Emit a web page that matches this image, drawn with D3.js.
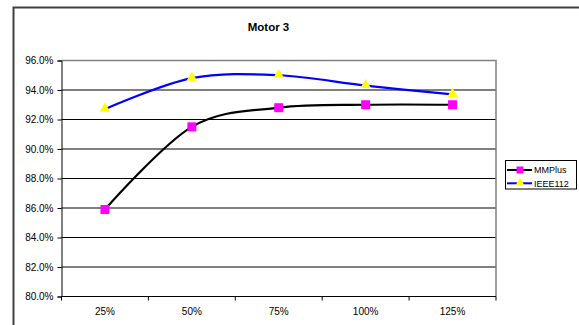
<!DOCTYPE html>
<html>
<head>
<meta charset="utf-8">
<script src="https://cdn.jsdelivr.net/npm/d3@7"></script>
<style>
  html, body { margin: 0; padding: 0; background: #fff; }
  svg { display: block; }
  text { font-family: Arial, "Liberation Sans", sans-serif; fill: #000; }
</style>
</head>
<body>
<svg id="chart" width="579" height="325"></svg>
<script>
// Load levels and efficiencies for Motor 3
const categories = ["25%", "50%", "75%", "100%", "125%"];
const mmplus   = [85.9, 91.5, 92.8, 93.0, 93.0];
const ieee112  = [92.7, 94.8, 95.0, 94.3, 93.7];
const yTicks   = [80, 82, 84, 86, 88, 90, 92, 94, 96];
const seriesNames = ["MMPlus", "IEEE112"];

const svg = d3.select("#chart");

// chart frame (runs past the right and bottom of the view)
svg.append("rect")
  .attr("x", 13.5).attr("y", 7.5)
  .attr("width", 700).attr("height", 400)
  .attr("fill", "#fff")
  .attr("stroke", "#404040")
  .attr("stroke-width", 2);

const plot = { left: 61.5, right: 496, top: 60.5, bottom: 296.5 };

const x = d3.scaleBand()
  .domain(categories)
  .range([plot.left, plot.right])
  .padding(0);

const y = d3.scaleLinear()
  .domain([80, 96])
  .range([plot.bottom, plot.top]);

const cx = d => x(d) + x.bandwidth() / 2;

// title
svg.append("text")
  .attr("x", 268.5).attr("y", 31)
  .attr("text-anchor", "middle")
  .attr("font-size", "11.5px")
  .attr("font-weight", "bold")
  .text("Motor 3");

// horizontal gridlines
svg.append("g")
  .selectAll("line")
  .data(yTicks.filter(t => t !== 96 && t !== 80))
  .join("line")
  .attr("x1", plot.left).attr("x2", plot.right)
  .attr("y1", d => y(d)).attr("y2", d => y(d))
  .attr("stroke", "#000")
  .attr("stroke-width", 1);

// plot area border (top and right)
svg.append("path")
  .attr("d", `M${plot.left},${plot.top}H${plot.right}V${plot.bottom}`)
  .attr("fill", "none")
  .attr("stroke", "#808080")
  .attr("stroke-width", 1.5);

// y axis
const yAxis = d3.axisLeft(y)
  .tickValues(yTicks)
  .tickSize(4)
  .tickPadding(4)
  .tickFormat(d => d.toFixed(1) + "%");

svg.append("g")
  .attr("transform", `translate(${plot.left},0)`)
  .call(yAxis)
  .call(g => g.selectAll("text").attr("font-size", "10px").attr("font-family", "Arial, 'Liberation Sans', sans-serif").attr("fill", "#000"))
  .call(g => g.selectAll("line, path").attr("stroke", "#000"));

// x axis: ticks on band boundaries, labels centred in bands
const xAxisG = svg.append("g")
  .attr("transform", `translate(0,${plot.bottom})`);

xAxisG.append("line")
  .attr("x1", plot.left).attr("x2", plot.right)
  .attr("stroke", "#000");

const boundaries = categories.map(c => x(c)).concat([x(categories[categories.length - 1]) + x.bandwidth()]);
xAxisG.selectAll("line.tick")
  .data(boundaries)
  .join("line")
  .attr("class", "tick")
  .attr("x1", d => d).attr("x2", d => d)
  .attr("y1", 0).attr("y2", 4)
  .attr("stroke", "#000");

xAxisG.selectAll("text")
  .data(categories)
  .join("text")
  .attr("x", d => cx(d))
  .attr("y", 18.5)
  .attr("text-anchor", "middle")
  .attr("font-size", "10px")
  .text(d => d);

// smoothed series lines
const line = d3.line()
  .x((d, i) => cx(categories[i]))
  .y(d => y(d))
  .curve(d3.curveCardinal.tension(0));

svg.append("path")
  .datum(ieee112)
  .attr("d", line)
  .attr("fill", "none")
  .attr("stroke", "#0000ff")
  .attr("stroke-width", 2.2);

svg.append("path")
  .datum(mmplus)
  .attr("d", line)
  .attr("fill", "none")
  .attr("stroke", "#000")
  .attr("stroke-width", 2.2);

const tri = d3.symbol().type(d3.symbolTriangle);

// markers
svg.append("g")
  .selectAll("rect")
  .data(mmplus)
  .join("rect")
  .attr("x", (d, i) => cx(categories[i]) - 4.5)
  .attr("y", d => y(d) - 4.5)
  .attr("width", 9).attr("height", 9)
  .attr("fill", "#ff00ff");

svg.append("g")
  .selectAll("path")
  .data(ieee112)
  .join("path")
  .attr("d", tri.size(48))
  .attr("transform", (d, i) => `translate(${cx(categories[i])},${y(d) - 0.5})`)
  .attr("fill", "#ffff00");

// legend
const legend = svg.append("g");
legend.append("rect")
  .attr("x", 505.5).attr("y", 160.5)
  .attr("width", 71).attr("height", 28.5)
  .attr("fill", "#fff")
  .attr("stroke", "#000")
  .attr("stroke-width", 1);

const legendColors = ["#000", "#0000ff"];
seriesNames.forEach((name, i) => {
  const ly = 170 + i * 13.3;
  legend.append("line")
    .attr("x1", 507).attr("x2", 532)
    .attr("y1", ly).attr("y2", ly)
    .attr("stroke", legendColors[i])
    .attr("stroke-width", 2);
  if (i === 0) {
    legend.append("rect")
      .attr("x", 516.5).attr("y", ly - 3.5)
      .attr("width", 7).attr("height", 7)
      .attr("fill", "#ff00ff");
  } else {
    legend.append("path")
      .attr("d", d3.symbol().type(d3.symbolTriangle).size(34)())
      .attr("transform", `translate(520,${ly - 0.5})`)
      .attr("fill", "#ffff00");
  }
  legend.append("text")
    .attr("x", 534).attr("y", ly + 3.3)
    .attr("font-size", "9px")
    .text(name);
});
</script>
</body>
</html>
